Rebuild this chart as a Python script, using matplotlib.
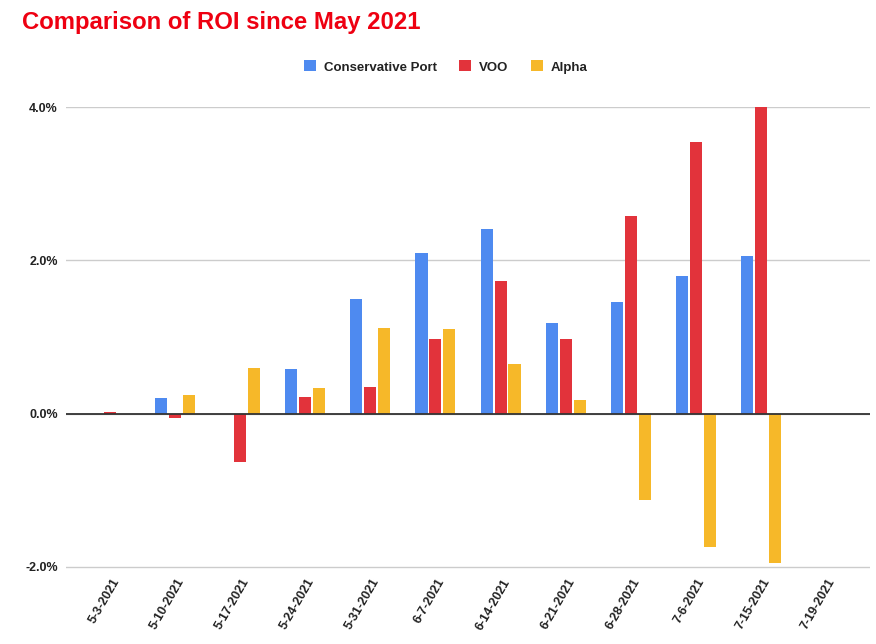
import matplotlib.pyplot as plt
import numpy as np
from matplotlib.ticker import PercentFormatter

plt.rcParams['font.family'] = ['Liberation Sans', 'DejaVu Sans']
plt.rcParams['axes.unicode_minus'] = False

# weekly ROI values (percent)
dates = ['5-3-2021', '5-10-2021', '5-17-2021', '5-24-2021', '5-31-2021', '6-7-2021',
         '6-14-2021', '6-21-2021', '6-28-2021', '7-6-2021', '7-15-2021', '7-19-2021']
conservative = [0.00, 0.20, -0.01, 0.58, 1.50, 2.09, 2.41, 1.18, 1.46, 1.80, 2.05, 0.00]
voo = [0.02, -0.06, -0.63, 0.22, 0.35, 0.97, 1.73, 0.98, 2.58, 3.54, 4.00, 0.00]
alpha = [-0.01, 0.24, 0.60, 0.33, 1.12, 1.10, 0.65, 0.18, -1.12, -1.74, -1.95, 0.00]

series = [('Conservative Port', conservative, '#4e8af0'),
          ('VOO', voo, '#e2333b'),
          ('Alpha', alpha, '#f6b829')]

fig = plt.figure(figsize=(8.76, 6.44), dpi=100)
# -2% sits at y=567px, 4% at y=107px
ax = fig.add_axes([66/876, 1-568.5/644, 804/876, 461.5/644])

x = np.arange(len(dates))
step = 0.215
width = 0.185
for i, (name, vals, col) in enumerate(series):
    ax.bar(x + (i - 1)*step, vals, width=width, color=col, label=name, zorder=3)

ax.set_xlim(-0.68, len(dates) - 1 + 0.68)
ax.set_ylim(-2.02, 4.0)
ax.set_yticks([-2, 0, 2, 4])
ax.yaxis.set_major_formatter(PercentFormatter(100, decimals=1))
ax.grid(axis='y', color='#cccccc', linewidth=1, zorder=0)
ax.axhline(0, color='#333333', linewidth=1.3, zorder=4)
for s in ax.spines.values():
    s.set_visible(False)
ax.tick_params(axis='both', length=0)
ax.tick_params(axis='y', pad=6, labelsize=9, colors='#222222')
for t in ax.get_yticklabels():
    t.set_fontweight('bold')

ax.set_xticks(x + 0.1)
ax.set_xticklabels(dates, rotation=60, ha='right', va='center', rotation_mode='anchor',
                   fontsize=9, fontweight='bold', color='#222222')
ax.tick_params(axis='x', pad=8)

fig.text(22/876, 1-22/644, 'Comparison of ROI since May 2021', color='#ee0011',
         fontsize=17.2, fontweight='bold', va='center', ha='left')

leg = fig.legend(loc='center', bbox_to_anchor=(446/876, 1-67/644), ncol=3, frameon=False,
                 handlelength=0.9, handleheight=0.9, handletextpad=0.6, columnspacing=1.7,
                 prop={'size': 9.5, 'weight': 'bold'})
for t in leg.get_texts():
    t.set_color('#222222')

fig.savefig('out.png', dpi=100, facecolor='white')
